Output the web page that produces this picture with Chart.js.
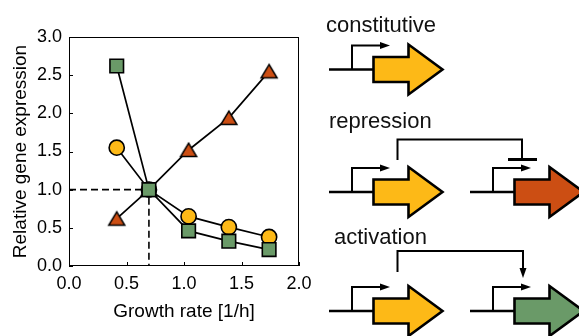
<!DOCTYPE html>
<html><head><meta charset="utf-8">
<script src="https://cdn.jsdelivr.net/npm/chart.js@4/dist/chart.umd.min.js"></script>
<style>html,body{margin:0;padding:0;background:#fff;overflow:hidden}#wrap{position:relative;width:579px;height:336px}canvas{display:block}</style>
</head><body><div id="wrap"><canvas id="c" width="579" height="336"></canvas></div>
<script>
// ---- data ----
const growthRate   = [0.415, 0.695, 1.04, 1.39, 1.74];
const constitutive = [1.55, 1.0, 0.65, 0.51, 0.38];
const activated    = [2.62, 1.0, 0.46, 0.325, 0.215];
const repressed    = [0.62, 1.0, 1.52, 1.94, 2.55];
const refRate  = 0.695;
const refLevel = 1.0;
const xTickLabels = ['0.0','0.5','1.0','1.5','2.0'];
const yTickLabels = ['0.0','0.5','1.0','1.5','2.0','2.5','3.0'];
const diagramLabels = ['constitutive', 'repression', 'activation'];

const YELLOW = '#FDB917', GREEN = '#6A9A68', RED = '#CC4E13';
const FONT = '"Liberation Sans", Arial, Helvetica, sans-serif';

function pts(xs, ys){ return xs.map((x,i)=>({x, y: ys[i]})); }

// triangle marker centred on its bounding box (matplotlib style)
function triImg(){
  const c = document.createElement('canvas'); c.width = 24; c.height = 24;
  const g = c.getContext('2d');
  g.beginPath(); g.moveTo(12, 5.2); g.lineTo(20, 18.6); g.lineTo(4, 18.6); g.closePath();
  g.fillStyle = RED; g.fill(); g.lineWidth = 1.5; g.strokeStyle = '#000'; g.lineJoin = 'miter'; g.stroke();
  return c;
}

function arrowHeadH(ctx, x, y, dir){ // horizontal arrow head pointing right
  ctx.beginPath(); ctx.moveTo(x, y); ctx.lineTo(x - 10, y - 3.5); ctx.lineTo(x - 10, y + 3.5); ctx.closePath(); ctx.fill();
}
function gene(ctx, x0, Y, color){
  ctx.beginPath();
  ctx.moveTo(x0, Y - 12.5); ctx.lineTo(x0 + 35, Y - 12.5); ctx.lineTo(x0 + 35, Y - 25);
  ctx.lineTo(x0 + 69, Y); ctx.lineTo(x0 + 35, Y + 25); ctx.lineTo(x0 + 35, Y + 12.5);
  ctx.lineTo(x0, Y + 12.5); ctx.closePath();
  ctx.fillStyle = color; ctx.fill();
  ctx.lineWidth = 2.6; ctx.strokeStyle = '#000'; ctx.lineJoin = 'miter'; ctx.stroke();
}
function unit(ctx, dx, Y, color){
  // DNA line
  ctx.strokeStyle = '#000'; ctx.fillStyle = '#000';
  ctx.lineWidth = 2.6; ctx.beginPath(); ctx.moveTo(329 + dx, Y); ctx.lineTo(374 + dx, Y); ctx.stroke();
  // promoter
  ctx.lineWidth = 2; ctx.beginPath(); ctx.moveTo(352 + dx, Y); ctx.lineTo(352 + dx, Y - 24); ctx.lineTo(382 + dx, Y - 24); ctx.stroke();
  arrowHeadH(ctx, 390 + dx, Y - 24);
  gene(ctx, 373.5 + dx, Y, color);
}

const deco = {
  id: 'deco',
  beforeDatasetsDraw(chart){
    const {ctx, chartArea: a, scales} = chart;
    ctx.save();
    ctx.strokeStyle = '#000'; ctx.lineWidth = 1;
    ctx.strokeRect(Math.round(a.left) + 0.5, Math.round(a.top) + 0.5, Math.round(a.right - a.left) - 1, Math.round(a.bottom - a.top) - 1);
    ctx.beginPath();
    scales.x.ticks.forEach(t => { const p = Math.round(scales.x.getPixelForValue(t.value)) + 0.5; ctx.moveTo(p, a.bottom); ctx.lineTo(p, a.bottom - 4); });
    scales.y.ticks.forEach(t => { const p = Math.round(scales.y.getPixelForValue(t.value)) + 0.5; ctx.moveTo(a.left, p); ctx.lineTo(a.left + 4, p); });
    ctx.stroke();
    ctx.restore();
  },
  afterDraw(chart){
    const ctx = chart.ctx;
    ctx.save();
    ctx.fillStyle = '#111'; ctx.font = '22px ' + FONT; ctx.textBaseline = 'alphabetic'; ctx.textAlign = 'left';
    ctx.fillText(diagramLabels[0], 326, 32);
    ctx.fillText(diagramLabels[1], 329, 128);
    ctx.fillText(diagramLabels[2], 334, 244);

    // constitutive
    unit(ctx, 0, 69.5, YELLOW);
    // repression
    unit(ctx, 0, 192, YELLOW);
    unit(ctx, 141, 192, RED);
    ctx.strokeStyle = '#000'; ctx.lineWidth = 2;
    ctx.beginPath(); ctx.moveTo(397.5, 160); ctx.lineTo(397.5, 139.5); ctx.lineTo(522, 139.5); ctx.lineTo(522, 159); ctx.stroke();
    ctx.lineWidth = 3; ctx.beginPath(); ctx.moveTo(508, 159.5); ctx.lineTo(537, 159.5); ctx.stroke();
    // activation
    unit(ctx, 0, 311, YELLOW);
    unit(ctx, 141, 311, GREEN);
    ctx.lineWidth = 2; ctx.beginPath(); ctx.moveTo(397.5, 272); ctx.lineTo(397.5, 251); ctx.lineTo(523, 251); ctx.lineTo(523, 270); ctx.stroke();
    ctx.fillStyle = '#000'; ctx.beginPath(); ctx.moveTo(523, 278); ctx.lineTo(519.5, 268); ctx.lineTo(526.5, 268); ctx.closePath(); ctx.fill();
    ctx.restore();
  }
};

new Chart(document.getElementById('c'), {
  type: 'line',
  data: {
    datasets: [
      { data: pts(growthRate, activated), borderColor: '#000', borderWidth: 1.7, pointStyle: 'rect', pointRadius: 9.6, pointBackgroundColor: GREEN, pointBorderColor: '#000', pointBorderWidth: 1.6, order: 1 },
      { data: pts(growthRate, constitutive), borderColor: '#000', borderWidth: 1.7, pointStyle: 'circle', pointRadius: 7.6, pointBackgroundColor: YELLOW, pointBorderColor: '#000', pointBorderWidth: 1.6, order: 2 },
      { data: pts(growthRate, repressed), borderColor: '#000', borderWidth: 1.7, pointStyle: triImg(), pointRadius: 10, order: 3 },
      { data: [{x: 0, y: refLevel}, {x: refRate, y: refLevel}, {x: refRate, y: 0}], borderColor: '#000', borderWidth: 1.6, borderDash: [7, 4], pointRadius: 0, order: 4 }
    ]
  },
  options: {
    responsive: false, animation: false, devicePixelRatio: 1,
    layout: { padding: { left: 0, top: 37, right: 280, bottom: 0 } },
    plugins: { legend: { display: false }, tooltip: { enabled: false } },
    elements: { line: { tension: 0, fill: false } },
    scales: {
      x: {
        type: 'linear', min: 0, max: 2,
        grid: { display: false, drawTicks: false }, border: { display: false },
        ticks: { stepSize: 0.5, padding: 7, color: '#000', font: { family: FONT, size: 18 }, maxRotation: 0,
                 callback: (v) => xTickLabels[Math.round(v / 0.5)] },
        title: { display: true, text: 'Growth rate [1/h]', color: '#000', font: { family: FONT, size: 19 }, padding: { top: 0, bottom: 12.6 } },
        afterFit: (s) => { s.height = 70; }
      },
      y: {
        type: 'linear', min: 0, max: 3,
        grid: { display: false, drawTicks: false }, border: { display: false },
        ticks: { stepSize: 0.5, padding: 7, color: '#000', font: { family: FONT, size: 18 },
                 callback: (v) => yTickLabels[Math.round(v / 0.5)] },
        title: { display: true, text: 'Relative gene expression', color: '#000', font: { family: FONT, size: 19 }, padding: { top: 9.6, bottom: 0 } },
        afterFit: (s) => { s.width = 69; }
      }
    }
  },
  plugins: [deco]
});
</script></body></html>
